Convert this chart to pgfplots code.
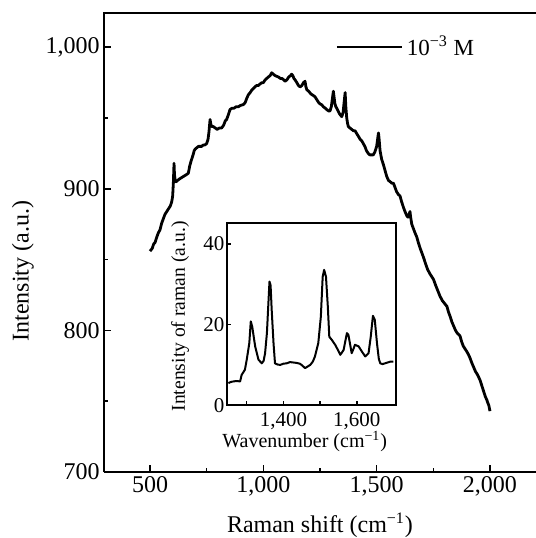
\documentclass[border=0pt]{standalone}
\usepackage{fontspec}
\setmainfont{Liberation Serif}
\usepackage{pgfplots}
\usepackage{pgfplotstable}
\pgfplotsset{compat=1.18}

% main spectrum
\pgfplotstableread{
x y
500 856
505 857
510 858
516 861
522 862
530 866
537 869
544 871
552 876
559 879
566 882
574 884
582 886
590 888
596 891
600 895
603 904
606 918
608 910
611 906
615 905
622 906
630 907
640 908
650 909
660 910
669 911
675 916
680 919
684 921
690 924
695 927
699 928
706 929
714 930
721 930
728 930
735 931
742 931
750 932
756 935
760 940
765 949
768 946
772 944
779 944
788 943
796 942
806 943
816 943
825 945
832 948
838 949
845 952
853 956
862 957
871 957
880 958
890 958
900 959
912 959.5
920 961
927 964
934 966.5
942 968
950 970
957 971
963 972
970 973
978 973
985 974
993 975
1000 975
1008 977
1015 978
1022 979
1030 980
1037 982
1044 981
1052 980
1059 979.5
1067 979
1075 978
1082 978
1090 977
1096 976
1104 977
1112 979
1120 980
1125 981
1130 980
1135 978
1140 977
1148 975
1155 973
1162 972
1170 973
1177 975
1184 976
1188 972
1192 970
1200 969
1210 967
1220 966
1228 965
1236 963
1244 961
1250 960
1257 959.5
1265 958
1273 957
1280 956
1288 955
1294 955
1300 958
1305 964
1309 969
1312 965
1316 960
1320 958
1324 957
1330 955
1336 953
1341 952
1346 951
1352 954
1357 962
1361 968
1364 958
1368 950
1372 946
1375 944
1382 943
1390 942
1398 941
1405 941
1412 939
1420 937
1427 935
1434 934
1441 932
1448 930
1455 927
1463 925
1470 924
1478 924
1485 924
1492 926
1500 930
1505 936
1508 939.5
1511 935
1515 927
1522 921
1530 917
1537 913
1544 909
1552 906
1560 905
1567 904
1574 904
1581 901
1588 898
1596 896
1603 895
1610 891
1618 887
1625 884
1633 881
1638 880
1643 882
1647 884
1650 880
1655 875
1662 872
1669 869
1677 866
1684 862
1692 858
1699 855
1708 851
1716 847
1725 843
1735 840
1743 838
1751 836
1760 832
1770 828
1780 824
1790 821
1800 819
1810 817
1817 813
1824 810
1832 806
1840 803
1848 800
1856 798
1863 797
1868 796
1875 792
1882 789
1890 787
1898 785
1905 783
1912 780.5
1920 777
1928 774
1936 771
1944 769
1950 767
1956 765
1962 762
1968 759
1974 756
1980 753
1986 751
1990 749
1995 747
2000 743
}\mainspec

% inset: zoom on the Raman bands
\pgfplotstableread{
x y
1250 5.5
1258 5.8
1264 5.9
1272 6.0
1282 5.9
1286 7.5
1295 8.8
1300 11.3
1307 15.4
1311 20.8
1315 19.5
1319 17.0
1323 14.6
1332 11.3
1341 10.4
1346 11.0
1350 12.9
1355 17.9
1359 25.3
1362 30.7
1365 29.8
1368 23.7
1373 15.4
1377 10.4
1384 10.1
1391 10.0
1400 10.3
1409 10.4
1418 10.7
1427 10.6
1436 10.5
1445 10.3
1452 9.8
1459 9.2
1466 9.6
1473 10.0
1480 10.8
1486 12.1
1495 15.4
1502 22.0
1507 31.9
1511 33.6
1516 31.9
1521 24.5
1525 17.0
1532 16.2
1541 15.0
1548 13.8
1555 12.5
1564 13.7
1573 17.9
1577 17.5
1582 15.0
1586 12.9
1591 14.0
1595 15.0
1605 14.6
1614 13.3
1623 12.1
1632 12.9
1638 17.0
1644 22.2
1649 21.2
1655 15.4
1660 11.5
1664 10.4
1670 10.2
1677 10.4
1684 10.6
1691 10.8
1700 10.8
}\insetspec

\begin{document}
\begin{tikzpicture}
\useasboundingbox (-52pt,-33pt) rectangle (216pt,236pt);
\begin{axis}[
    name=main,
    scale only axis,
    width=216pt, height=229.35pt,
    xmin=297, xmax=2203, ymin=700, ymax=1024,
    axis x line*=bottom, axis y line*=left,
    axis line style={-, line width=1pt},
    tick align=inside,
    xtick={500,1000,1500,2000}, minor xtick={750,1250,1750},
    ytick={700,800,900,1000}, minor ytick={750,850,950},
    major tick length=3.5pt, minor tick length=2pt,
    tick style={black, line width=0.8pt},
    /pgf/number format/assume math mode=true,
    /pgf/number format/1000 sep={,},
    tick label style={font=\fontsize{12}{14}\selectfont},
    xticklabel style={inner sep=0pt, yshift=-2pt},
    yticklabel style={inner sep=0pt, xshift=-2pt},
    xlabel={Raman shift (cm\textsuperscript{−1})},
    ylabel={Intensity (a.u.)},
    label style={font=\fontsize{12}{14}\selectfont},
    xlabel style={at={(axis description cs:0.5,0)}, anchor=base, yshift=-30pt},
    ylabel style={at={(axis description cs:-0.1875,0.438)}, anchor=center},
    legend style={at={(axis cs:1318,1000)}, anchor=west, draw=none, fill=none,
      inner sep=0pt, font=\fontsize{11.5}{13}\selectfont},
    legend image code/.code={\draw[line width=1pt] (0pt,0pt) -- (32.5pt,0pt);},
]
\addplot[black, line width=1.4pt, line join=round] table[x=x, y=y] {\mainspec};
\addlegendentry{10\textsuperscript{−3} M}
\coordinate (ins) at (axis cs:841,747.2);
\end{axis}
\draw[line width=1pt, line join=miter] (main.south west) -- (main.north west) -- (main.north east);

\begin{axis}[
    at={(ins)}, anchor=south west,
    scale only axis,
    width=84.2pt, height=91pt,
    xmin=1247, xmax=1706, ymin=0, ymax=45.2,
    axis line style={line width=1pt},
    tick align=inside,
    xtick pos=left, ytick pos=left,
    xtick={1400,1600}, minor xtick={1300,1500},
    ytick={0,20,40},
    major tick length=2pt, minor tick length=2pt,
    tick style={black, line width=0.7pt},
    /pgf/number format/assume math mode=true,
    /pgf/number format/1000 sep={,},
    tick label style={font=\fontsize{10.5}{12}\selectfont},
    yticklabel style={inner sep=0pt, xshift=-1.2pt},
    xlabel={Wavenumber (cm\textsuperscript{−1})},
    ylabel={Intensity of raman (a.u.)},
    xlabel style={font=\fontsize{10}{12}\selectfont, at={(axis description cs:0.46,0)}, anchor=base, yshift=-21.3pt},
    ylabel style={font=\fontsize{9.8}{11}\selectfont, at={(axis description cs:-0.281,0.488)}, anchor=center},
]
\addplot[black, line width=1pt, line join=round] table[x=x, y=y] {\insetspec};
\end{axis}
\end{tikzpicture}
\end{document}
